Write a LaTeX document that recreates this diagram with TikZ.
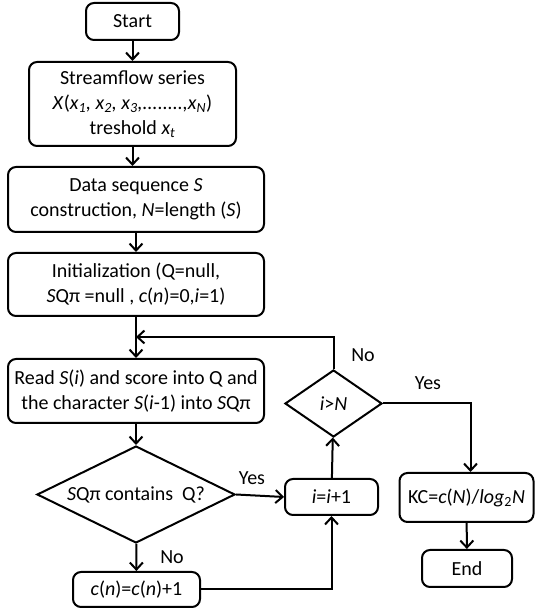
\documentclass[tikz,border=0pt]{standalone}
\usepackage{fontspec}
\setmainfont{Carlito}
\usetikzlibrary{shapes.geometric,arrows.meta}
\begin{document}
\begin{tikzpicture}[x=1pt, y=1pt, line width=2pt, >={Straight Barb[length=7pt,width=13pt]},
	  font=\fontsize{20}{25}\selectfont,
	  box/.style={draw, rounded corners=8pt, align=center, inner sep=0pt},
	  decision/.style={draw, diamond, aspect=2, align=center, inner sep=0pt}]
	  \useasboundingbox (0,0) rectangle (535,613);
	  %\draw[help lines] (0,0) grid[step=50] (535,613);
	  \node[box, minimum width=93, minimum height=37] (start) at (132.5,591.5) {Start};
	  \node[box, minimum width=207, minimum height=84] (stream) at (132.5,509) {Streamflow series\\ \textit{X}(\textit{x\textsubscript{1}, x\textsubscript{2}, x\textsubscript{3},........,x\textsubscript{N}})\\ treshold \textit{x\textsubscript{t}}};
	  \node[box, minimum width=256, minimum height=65] (data) at (136,413.5) {Data sequence \textit{S}\\ construction, \textit{N}=length (\textit{S})};
	  \node[box, minimum width=256, minimum height=63] (init) at (136,328.5) {Initialization (Q=null,\\ \textit{S}Qπ =null , \textit{c}(\textit{n})=0,\textit{i}=1)};
	  \node[box, minimum width=256, minimum height=64] (read) at (136,222) {Read \textit{S}(\textit{i}) and score into Q and\\ the character \textit{S}(\textit{i}-1) into \textit{S}Qπ};
	  \node[decision, minimum width=198, minimum height=97] (contains) at (136,118.5) {\textit{S}Qπ contains\ \ Q?};
	  \node[box, minimum width=127, minimum height=35] (count) at (136.5,23.5) {\textit{c}(\textit{n})=\textit{c}(\textit{n})+1};
	  \node[box, minimum width=93, minimum height=36] (incr) at (331.5,116) {\textit{i}=\textit{i}+1};
	  \node[decision, minimum width=97, minimum height=67] (test) at (333.5,209.5) {\textit{i}>\textit{N}};
	  \node[box, minimum width=134, minimum height=49] (kc) at (466.5,115.5) {KC=\textit{c}(\textit{N})/\textit{log}\textsubscript{2}\textit{N}};
	  \node[box, minimum width=90, minimum height=37] (end) at (467,44.5) {End};
	  \coordinate (loop) at (136,276);
	  % labels
	  \node (yesA) at (252,135) {Yes};
	  \node (noA) at (172,56) {No};
	  \node (noB) at (363,258) {No};
	  \node (yesB) at (428,230) {Yes};
	  % connectors
	  \draw[->] (start) -- (stream);
	  \draw[->] (stream.south) -- (stream.south |- data.north);
	  \draw[->] (data) -- (init);
	  \draw[->] (init) -- (read);
	  \draw[->] (test.north) |- (loop);
	  \draw[->] (read) -- (contains);
	  \draw[->] (contains.east) -- (incr.west);
	  \draw[->] (contains) -- (count);
	  \draw[->] (count.east) -| (incr.south);
	  \draw[->] (incr) -- (test);
	  \draw[->] (test.east) -| ([xshift=4pt]kc.north);
	  \draw[->] (kc) -- (end);
	\end{tikzpicture}
\end{document}
